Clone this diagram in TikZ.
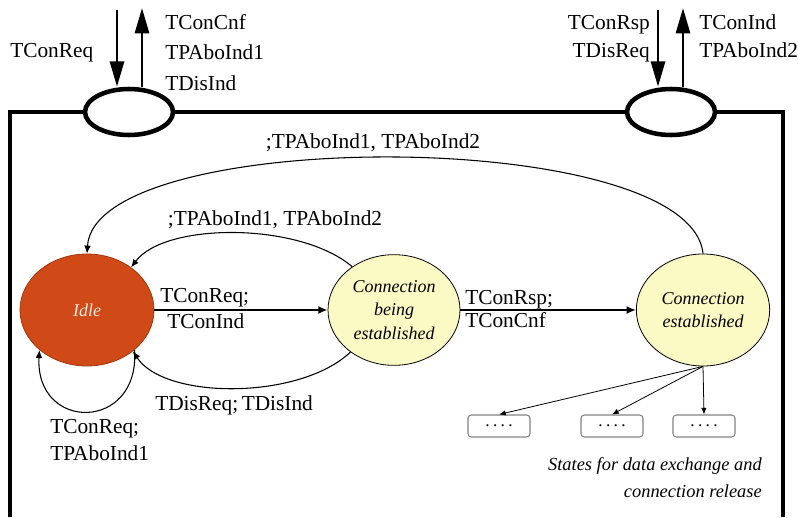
\documentclass[tikz,border=0pt]{standalone}
\usepackage{fontspec}
\setmainfont{Liberation Serif}
\usetikzlibrary{arrows.meta,shapes.geometric}
\definecolor{idlefill}{RGB}{208,74,24}
\definecolor{idleedge}{RGB}{160,55,15}
\definecolor{idletext}{RGB}{253,233,220}
\definecolor{statefill}{RGB}{252,250,196}
\definecolor{boxedge}{RGB}{130,130,130}
\begin{document}
\begin{tikzpicture}[x=0.75pt,y=-0.75pt,
  lbl/.style={font=\fontsize{16}{22}\selectfont, inner sep=0pt},
  note/.style={font=\fontsize{13.8}{20}\selectfont\itshape, inner sep=0pt},
  frameline/.style={line width=3.4pt},
  port/.style={ellipse, draw, line width=3.4pt, fill=white, inner sep=0pt,
    minimum width=66pt, minimum height=34.5pt},
  portarrow/.style={line width=2.2pt, -{Triangle[length=19pt,width=10.5pt]}},
  state/.style={ellipse, draw, line width=0.6pt, inner sep=0pt, align=center,
    font=\fontsize{13.5}{17.5}\selectfont\itshape},
  mainarrow/.style={line width=1.9pt, -{Latex[length=7pt,width=6pt]}},
  thinarrow/.style={line width=0.8pt, -{Latex[length=6pt,width=5pt]}},
  subarrow/.style={line width=0.6pt, -{Latex[length=5pt,width=4pt]}},
  substate/.style={rectangle, rounded corners=2.5pt, draw=boxedge, line width=0.8pt,
    minimum width=46.5pt, minimum height=16.5pt, inner sep=0pt,
    font=\fontsize{13}{15}\selectfont}
]
\useasboundingbox (0,0) rectangle (798,517);

% enclosing frame of the entity
\draw[frameline] (10,517) -- (10,112) -- (783,112) -- (783,517);

% service access points on the frame
\node[port] (pL) at (129,112) {};
\node[port] (pR) at (671,112) {};

\coordinate (inL) at (117,10);
\coordinate (outL) at (142,8);
\coordinate (inR) at (658,10);
\coordinate (outR) at (683,8);
\draw[portarrow] (inL) -- (inL |- pL.north);
\draw[portarrow] (outL |- pL.north) -- (outL);
\draw[portarrow] (inR) -- (inR |- pR.north);
\draw[portarrow] (outR |- pR.north) -- (outR);

\node[lbl, anchor=base west] (lReq) at (10,58) {TConReq};
\node[lbl, anchor=base west] (lOut1) at (165,30) {TConCnf};
\node[lbl, anchor=base west] (lOut2) at (165,60) {TPAboInd1};
\node[lbl, anchor=base west] (lOut3) at (165,90) {TDisInd};
\node[lbl, anchor=base east] (rIn1) at (650,30) {TConRsp};
\node[lbl, anchor=base east] (rIn2) at (650,58) {TDisReq};
\node[lbl, anchor=base west] (rOut1) at (699,30) {TConInd};
\node[lbl, anchor=base west] (rOut2) at (699,58) {TPAboInd2};

% states
\node[state, fill=idlefill, draw=idleedge, text=idletext,
  minimum width=100.5pt, minimum height=84pt] (idle) at (87,310) {Idle};
\node[state, fill=statefill, minimum width=99pt, minimum height=83pt]
  (cbe) at (394,310) {Connection\\being\\established};
\node[state, fill=statefill, minimum width=100pt, minimum height=84pt]
  (ce) at (703,310) {Connection\\established};

% main transitions
\draw[mainarrow] (idle) -- (cbe);
\draw[mainarrow] (cbe) -- (ce);
\node[lbl, anchor=base west] (t1a) at (160,302) {TConReq;};
\node[lbl, anchor=base west] (t1b) at (167,328) {TConInd};
\node[lbl, anchor=base west] (t2a) at (465,304) {TConRsp;};
\node[lbl, anchor=base west] (t2b) at (465,327) {TConCnf};

% returns to Idle
\draw[thinarrow] (ce.north) .. controls (690,126) and (95,126) .. (idle.north);
\node[lbl, anchor=base] (t3) at (373,148) {;TPAboInd1, TPAboInd2};

\draw[thinarrow] (cbe.134) .. controls (300,222) and (165,222) .. (idle.44);
\node[lbl, anchor=base] (t4) at (275,225) {;TPAboInd1, TPAboInd2};

\draw[thinarrow] (cbe.-136) .. controls (300,400) and (165,400) .. (idle.-42);
\node[lbl, anchor=base west] (t5) at (155,410) {TDisReq;\,TDisInd};

\draw[thinarrow] (idle.-40) .. controls (140,432) and (35,432) .. (idle.-140);
\node[lbl, anchor=base west] (t6a) at (50,433) {TConReq;};
\node[lbl, anchor=base west] (t6b) at (50,460) {TPAboInd1};

% states for data exchange and release
\node[substate] (s1) at (499,426) {.\hspace{2.5pt}.\hspace{2.5pt}.\hspace{2.5pt}.};
\node[substate] (s2) at (612,426) {.\hspace{2.5pt}.\hspace{2.5pt}.\hspace{2.5pt}.};
\node[substate] (s3) at (704,426) {.\hspace{2.5pt}.\hspace{2.5pt}.\hspace{2.5pt}.};
\draw[subarrow] (ce.south) -- (s1.north);
\draw[subarrow] (ce.south) -- (s2.north);
\draw[subarrow] (ce.south) -- (s3.north);

\node[note, anchor=base east] (cap1) at (762,470) {States for data exchange and};
\node[note, anchor=base east] (cap2) at (762,497) {connection release};
\end{tikzpicture}
\end{document}
